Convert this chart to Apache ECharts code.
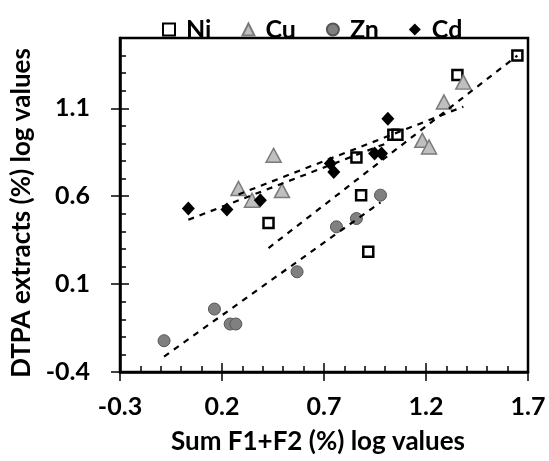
<!DOCTYPE html>
<html>
<head>
<meta charset="utf-8">
<script src="https://cdn.jsdelivr.net/npm/echarts@6/dist/echarts.min.js"></script>
<style>html,body{margin:0;padding:0;background:#fff;}#c{width:549px;height:461px;}</style>
</head>
<body>
<div id="c"></div>
<script>
// Data (log values)
var niX = [1.648, 1.354, 1.04, 1.06, 0.859, 0.882, 0.428, 0.917];
var niY = [1.40, 1.29, 0.95, 0.95, 0.82, 0.606, 0.448, 0.284];
var cuX = [1.383, 1.288, 1.182, 1.215, 0.453, 0.281, 0.347, 0.494];
var cuY = [1.249, 1.136, 0.918, 0.88, 0.833, 0.644, 0.577, 0.632];
var znX = [0.977, 0.859, 0.761, 0.568, 0.163, 0.24, 0.268, -0.084];
var znY = [0.606, 0.473, 0.426, 0.17, -0.042, -0.127, -0.127, -0.222];
var cdX = [1.013, 0.948, 0.982, 0.731, 0.748, 0.388, 0.224, 0.035];
var cdY = [1.041, 0.843, 0.843, 0.786, 0.738, 0.577, 0.524, 0.530];
// Trendline end points
var niTrendX = [0.428, 1.648], niTrendY = [0.305, 1.40];
var cuTrendX = [0.281, 1.383], cuTrendY = [0.61, 1.109];
var cdTrendX = [0.035, 1.013], cdTrendY = [0.466, 0.904];
var znTrendX = [-0.084, 0.977], znTrendY = [-0.312, 0.565];
var seriesNames = ['Ni', 'Cu', 'Zn', 'Cd'];
var xTicks = ['-0.3', '0.2', '0.7', '1.2', '1.7'];
var yTicks = ['-0.4', '0.1', '0.6', '1.1'];
var xTitle = 'Sum F1+F2 (%) log values';
var yTitle = 'DTPA extracts (%) log values';

function pairs(xs, ys) { return xs.map(function (x, i) { return [x, ys[i]]; }); }

var FONT = 'Lato';
var chart = echarts.init(document.getElementById('c'), null, { renderer: 'canvas' });

function xAx(interval, tickInside, tickLen, main) {
  return {
    type: 'value', position: 'bottom', min: -0.3, max: 1.7, interval: interval,
    axisLine: { show: main, onZero: false, lineStyle: { color: '#000', width: 2.5 } },
    axisTick: { show: true, inside: tickInside, length: tickLen, lineStyle: { color: '#000', width: 1.5 } },
    axisLabel: main ? {
      show: true, margin: 22, color: '#000', fontFamily: FONT, fontWeight: 'bold', fontSize: 25,
      formatter: function (v) { var s = v.toFixed(1); return xTicks.indexOf(s) >= 0 ? s : ''; }
    } : { show: false },
    splitLine: { show: false },
    name: main ? xTitle : '', nameLocation: 'middle', nameGap: 57,
    nameTextStyle: { color: '#000', fontFamily: FONT, fontWeight: 'bold', fontSize: 26, padding: [0, 12, 0, 0] }
  };
}
function yAx(interval, tickInside, tickLen, main) {
  return {
    type: 'value', position: 'left', min: -0.4, max: 1.5, interval: interval,
    axisLine: { show: main, onZero: false, lineStyle: { color: '#000', width: 2.5 } },
    axisTick: { show: true, inside: tickInside, length: tickLen, lineStyle: { color: '#000', width: 1.5 } },
    axisLabel: main ? {
      show: true, margin: 30, color: '#000', fontFamily: FONT, fontWeight: 'bold', fontSize: 25,
      showMaxLabel: false,
      formatter: function (v) { var s = v.toFixed(1); return yTicks.indexOf(s) >= 0 ? s : ''; }
    } : { show: false },
    splitLine: { show: false },
    name: main ? yTitle : '', nameLocation: 'middle', nameGap: 78,
    nameTextStyle: { color: '#000', fontFamily: FONT, fontWeight: 'bold', fontSize: 26, padding: [0, 16, 0, 0] }
  };
}

var trendStyle = { color: '#000', width: 2.2, type: [6, 6] };
function trend(xs, ys) {
  return {
    type: 'line', data: pairs(xs, ys), symbol: 'none', silent: true, z: 5,
    lineStyle: trendStyle, animation: false, legendHoverLink: false
  };
}

var option = {
  animation: false,
  backgroundColor: '#fff',
  grid: { left: 120, right: 21, top: 38, bottom: 89, show: true, borderColor: '#000', borderWidth: 2.5, backgroundColor: 'transparent' },
  legend: {
    data: seriesNames, left: 157, top: 12, itemWidth: 12, itemHeight: 12, itemGap: 30,
    textStyle: { color: '#000', fontFamily: FONT, fontWeight: 'bold', fontSize: 25, padding: [0, 0, 0, 6] }
  },
  xAxis: [xAx(0.5, false, 9, true), xAx(0.5, true, 9, false), xAx(0.1, true, 6, false)],
  yAxis: [yAx(0.5, false, 9, true), yAx(0.5, true, 9, false), yAx(0.1, true, 6, false)],
  series: [
    { name: 'Ni', type: 'scatter', data: pairs(niX, niY), symbol: 'rect', symbolSize: 10, z: 3,
      itemStyle: { color: '#fff', borderColor: '#000', borderWidth: 2.5, opacity: 1 } },
    { name: 'Cu', type: 'scatter', data: pairs(cuX, cuY), symbol: 'triangle', symbolSize: [15, 14], z: 3,
      itemStyle: { color: '#bfbfbf', borderColor: '#7a7a7a', borderWidth: 1.5, opacity: 1 } },
    { name: 'Zn', type: 'scatter', data: pairs(znX, znY), symbol: 'circle', symbolSize: 12, z: 3,
      itemStyle: { color: '#808080', borderColor: '#555', borderWidth: 1, opacity: 1 } },
    { name: 'Cd', type: 'scatter', data: pairs(cdX, cdY), symbol: 'diamond', symbolSize: [13, 14], z: 3,
      itemStyle: { color: '#000', opacity: 1 } },
    trend(niX.length ? niTrendX : [], niTrendY),
    trend(cuTrendX, cuTrendY),
    trend(cdTrendX, cdTrendY),
    trend(znTrendX, znTrendY)
  ]
};
chart.setOption(option);
</script>
</body>
</html>
